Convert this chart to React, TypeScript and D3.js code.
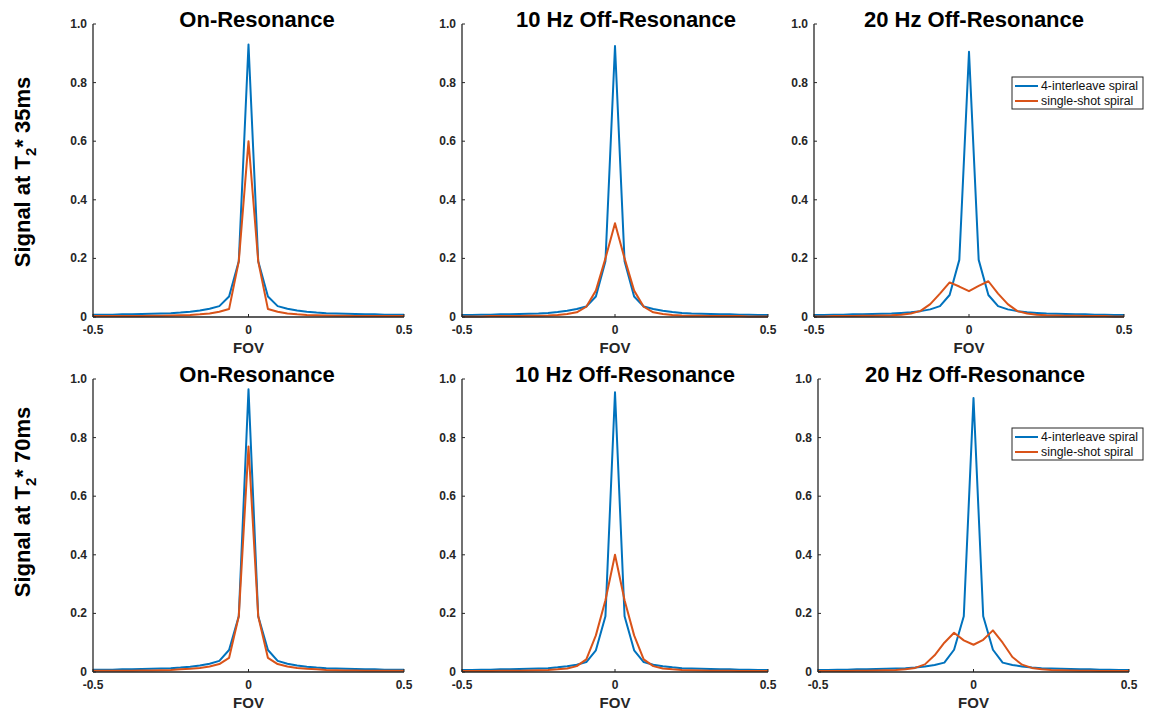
import React from "react";
import * as d3 from "d3";

// FOV positions: k/32, k = -16..16
const fov: number[] = [
  -0.5, -0.46875, -0.4375, -0.40625, -0.375, -0.34375, -0.3125, -0.28125, -0.25, -0.21875, -0.1875, -0.15625, -0.125, -0.09375, -0.0625, -0.03125,
  0,
  0.03125, 0.0625, 0.09375, 0.125, 0.15625, 0.1875, 0.21875, 0.25, 0.28125, 0.3125, 0.34375, 0.375, 0.40625, 0.4375, 0.46875, 0.5,
];

const titles: string[] = ["On-Resonance", "10 Hz Off-Resonance", "20 Hz Off-Resonance"];
const rowLabels: string[] = ["35ms", "70ms"];
const seriesNames: string[] = ["4-interleave spiral", "single-shot spiral"];
const yTicks: number[] = [0, 0.2, 0.4, 0.6, 0.8, 1.0];
const yTickLabels: string[] = ["0", "0.2", "0.4", "0.6", "0.8", "1.0"];
const xTicks: number[] = [-0.5, 0, 0.5];
const xTickLabels: string[] = ["-0.5", "0", "0.5"];

// T2* 35ms
const interleaveOn35: number[] = [0.008,0.008,0.008,0.009,0.009,0.010,0.011,0.012,0.013,0.015,0.018,0.022,0.028,0.037,0.07,0.19,0.93,0.19,0.07,0.037,0.028,0.022,0.018,0.015,0.013,0.012,0.011,0.010,0.009,0.009,0.008,0.008,0.008];
const singleOn35: number[] = [0.003,0.003,0.003,0.003,0.003,0.003,0.004,0.004,0.005,0.006,0.007,0.009,0.012,0.018,0.027,0.19,0.60,0.19,0.027,0.018,0.012,0.009,0.007,0.006,0.005,0.004,0.004,0.003,0.003,0.003,0.003,0.003,0.003];
const interleave10_35: number[] = [0.007,0.007,0.008,0.008,0.009,0.009,0.010,0.011,0.012,0.014,0.017,0.021,0.027,0.036,0.07,0.19,0.925,0.19,0.07,0.036,0.027,0.021,0.017,0.014,0.012,0.011,0.010,0.009,0.009,0.008,0.008,0.007,0.007];
const single10_35: number[] = [0.002,0.002,0.002,0.003,0.003,0.003,0.003,0.004,0.004,0.005,0.007,0.010,0.016,0.035,0.09,0.20,0.32,0.20,0.09,0.035,0.016,0.010,0.007,0.005,0.004,0.004,0.003,0.003,0.003,0.003,0.002,0.002,0.002];
const interleave20_35: number[] = [0.007,0.007,0.008,0.008,0.009,0.009,0.010,0.011,0.012,0.014,0.016,0.020,0.026,0.037,0.075,0.195,0.905,0.195,0.075,0.037,0.026,0.020,0.016,0.014,0.012,0.011,0.010,0.009,0.009,0.008,0.008,0.007,0.007];
const single20_35: number[] = [0.002,0.002,0.003,0.003,0.003,0.004,0.004,0.005,0.006,0.008,0.012,0.021,0.044,0.080,0.118,0.104,0.088,0.106,0.122,0.080,0.044,0.020,0.012,0.008,0.006,0.005,0.004,0.004,0.003,0.003,0.003,0.002,0.002];

// T2* 70ms
const interleaveOn70: number[] = [0.008,0.008,0.008,0.009,0.009,0.010,0.011,0.012,0.013,0.015,0.018,0.022,0.028,0.038,0.075,0.19,0.965,0.19,0.075,0.038,0.028,0.022,0.018,0.015,0.013,0.012,0.011,0.010,0.009,0.009,0.008,0.008,0.008];
const singleOn70: number[] = [0.004,0.004,0.004,0.004,0.004,0.005,0.005,0.006,0.007,0.009,0.011,0.014,0.019,0.027,0.048,0.19,0.77,0.19,0.048,0.027,0.019,0.014,0.011,0.009,0.007,0.006,0.005,0.005,0.004,0.004,0.004,0.004,0.004];
const interleave10_70: number[] = [0.007,0.007,0.008,0.008,0.009,0.009,0.010,0.011,0.012,0.013,0.016,0.020,0.025,0.034,0.074,0.19,0.955,0.19,0.074,0.034,0.025,0.020,0.016,0.013,0.012,0.011,0.010,0.009,0.009,0.008,0.008,0.007,0.007];
const single10_70: number[] = [0.003,0.003,0.003,0.003,0.004,0.004,0.004,0.005,0.006,0.007,0.009,0.012,0.020,0.043,0.125,0.245,0.40,0.245,0.125,0.043,0.020,0.012,0.009,0.007,0.006,0.005,0.004,0.004,0.004,0.003,0.003,0.003,0.003];
const interleave20_70: number[] = [0.007,0.007,0.008,0.008,0.009,0.009,0.010,0.011,0.012,0.013,0.015,0.019,0.024,0.032,0.076,0.19,0.935,0.19,0.076,0.032,0.024,0.019,0.015,0.013,0.012,0.011,0.010,0.009,0.009,0.008,0.008,0.007,0.007];
const single20_70: number[] = [0.003,0.003,0.003,0.003,0.004,0.004,0.005,0.006,0.007,0.009,0.014,0.026,0.057,0.100,0.134,0.108,0.093,0.110,0.142,0.100,0.051,0.025,0.014,0.009,0.007,0.006,0.005,0.004,0.004,0.003,0.003,0.003,0.003];

const BLUE = "#0072BD";
const RED = "#D95319";
const FONT = "'Liberation Sans', Arial, Helvetica, sans-serif";

type Panel = {
  row: number;
  col: number;
  x0: number;
  x1: number;
  titleX: number;
  blue: number[];
  red: number[];
  legend: boolean;
};

const rowY = [
  { top: 24, bottom: 317, labelY: 172 },
  { top: 379, bottom: 672, labelY: 502 },
];

const panels: Panel[] = [
  { row: 0, col: 0, x0: 93, x1: 404, titleX: 257, blue: interleaveOn35, red: singleOn35, legend: false },
  { row: 0, col: 1, x0: 462, x1: 768, titleX: 626, blue: interleave10_35, red: single10_35, legend: false },
  { row: 0, col: 2, x0: 814, x1: 1124, titleX: 974, blue: interleave20_35, red: single20_35, legend: true },
  { row: 1, col: 0, x0: 93, x1: 404, titleX: 257, blue: interleaveOn70, red: singleOn70, legend: false },
  { row: 1, col: 1, x0: 462, x1: 768, titleX: 625, blue: interleave10_70, red: single10_70, legend: false },
  { row: 1, col: 2, x0: 818, x1: 1129, titleX: 975, blue: interleave20_70, red: single20_70, legend: true },
];

function PanelView({ p }: { p: Panel }) {
  const ry = rowY[p.row];
  const x = d3.scaleLinear().domain([-0.5, 0.5]).range([p.x0, p.x1]);
  const y = d3.scaleLinear().domain([0, 1]).range([ry.bottom, ry.top]);
  const line = d3
    .line<number>()
    .x((_, i) => x(fov[i]))
    .y((d) => y(d));
  const legTop = ry.top + (p.row === 0 ? 53 : 49);
  return (
    <g>
      <text x={p.titleX} y={ry.top + 3} textAnchor="middle" fontFamily={FONT} fontWeight="bold" fontSize={22}>
        {titles[p.col]}
      </text>
      {/* data */}
      <path d={line(p.blue) || ""} fill="none" stroke={BLUE} strokeWidth={2} strokeLinejoin="round" />
      <path d={line(p.red) || ""} fill="none" stroke={RED} strokeWidth={2} strokeLinejoin="round" />
      {/* axes */}
      <line x1={p.x0} x2={p.x0} y1={y(1)} y2={y(0)} stroke="#262626" strokeWidth={1.3} />
      <line x1={p.x0} x2={p.x1} y1={y(0)} y2={y(0)} stroke="#262626" strokeWidth={1.3} />
      {yTicks.map((t, i) => (
        <g key={"y" + i}>
          <line x1={p.x0} x2={p.x0 + 3} y1={y(t)} y2={y(t)} stroke="#262626" strokeWidth={1} />
          <text x={p.x0 - 6} y={y(t) + 4} textAnchor="end" fontFamily={FONT} fontWeight="bold" fontSize={12} fill="#262626">
            {yTickLabels[i]}
          </text>
        </g>
      ))}
      {xTicks.map((t, i) => (
        <g key={"x" + i}>
          <line x1={x(t)} x2={x(t)} y1={y(0)} y2={y(0) - 3} stroke="#262626" strokeWidth={1} />
          <text x={x(t)} y={y(0) + 17} textAnchor="middle" fontFamily={FONT} fontWeight="bold" fontSize={12} fill="#262626">
            {xTickLabels[i]}
          </text>
        </g>
      ))}
      <text x={x(0)} y={y(0) + 36} textAnchor="middle" fontFamily={FONT} fontWeight="bold" fontSize={15} fill="#262626">
        FOV
      </text>
      {p.legend && (
        <g>
          <rect x={1012} y={legTop} width={131} height={32} fill="white" stroke="#262626" strokeWidth={1} />
          {seriesNames.map((s, i) => (
            <g key={s}>
              <line x1={1015} x2={1038} y1={legTop + 9 + i * 15} y2={legTop + 9 + i * 15} stroke={i === 0 ? BLUE : RED} strokeWidth={2} />
              <text x={1041} y={legTop + 13 + i * 15} fontFamily={FONT} fontSize={12.3} fill="#111">
                {s}
              </text>
            </g>
          ))}
        </g>
      )}
    </g>
  );
}

export default function App() {
  return (
    <svg width={1175} height={713} style={{ position: "absolute", left: 0, top: 0, background: "white" }}>
      <rect x={0} y={0} width={1175} height={713} fill="white" />
      {rowY.map((r, i) => (
        <text
          key={"yl" + i}
          transform={`translate(30,${r.labelY}) rotate(-90)`}
          textAnchor="middle"
          fontFamily={FONT}
          fontWeight="bold"
          fontSize={22}
        >
          Signal at T<tspan fontSize={15} dy={6}>2</tspan>
          <tspan dy={-6}>* {rowLabels[i]}</tspan>
        </text>
      ))}
      {panels.map((p, i) => (
        <PanelView key={i} p={p} />
      ))}
    </svg>
  );
}
